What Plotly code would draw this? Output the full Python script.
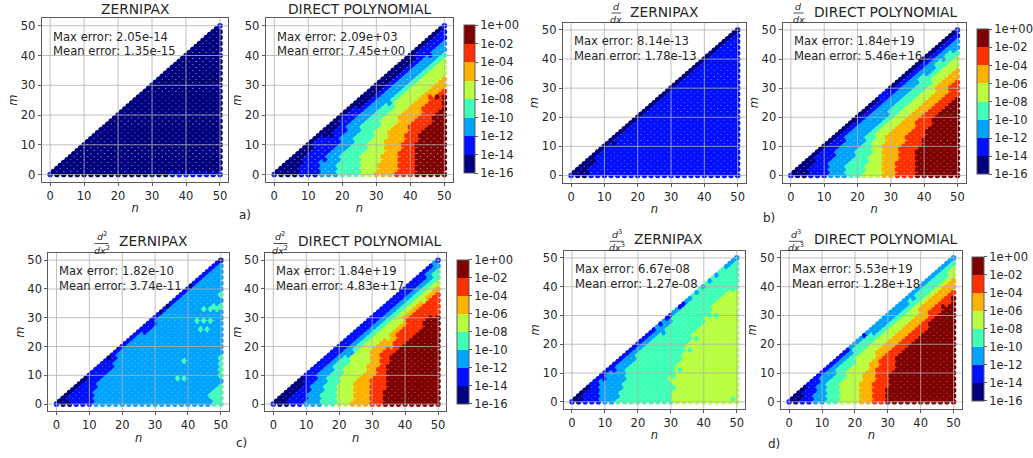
import plotly.graph_objects as go

W, H = 1033, 458

# ---- colour bands (log10 error) ----
BAND_EDGES = [-16, -14, -12, -10, -8, -6, -4, -2, 0]
BAND_COLORS = ["#00007f", "#0010ff", "#00a4ff", "#40ffb7", "#b7ff40", "#ffb300", "#ff3000", "#7f0000"]
BAND_LABELS = ["1e-16", "1e-14", "1e-12", "1e-10", "1e-08", "1e-06", "1e-04", "1e-02", "1e+00"]

# Every list below: index = radial row m, value = first n at which the band begins on that row.
# ---- a) DIRECT POLYNOMIAL ----
A_D1 = [7,8,8,9,9,9,10,10,11,12,12,13,14,18,17,18,19,20,20,21,22,23,24,26,27,28,29,30,31,32,34,35,36,37,37,38,39,40,41,42,42,43,44,45,46,47,48,49,50,51,50]
A_D2 = [14,15,14,15,14,16,16,17,18,19,20,21,20,21,22,23,22,23,24,25,26,27,28,29,30,31,32,33,34,35,36,37,38,39,40,41,42,43,44,45,47,47,48,49,50]
A_D3 = [20,19,20,19,20,21,20,21,22,23,24,25,24,25,26,27,26,27,28,29,30,31,32,33,36,35,36,37,38,39,40,41,42,43,44,45,46,47,48,49,50]
A_D4 = [26,27,26,27,26,27,26,27,28,29,28,29,30,31,30,31,32,33,32,33,34,35,36,37,36,37,38,39,40,41,42,43,44,45,46,47,48,49,50]
A_D5 = [30,31,32,31,32,33,32,33,34,33,34,33,34,35,34,35,36,37,38,37,38,39,40,41,42,43,44,45,46,47,48,49,50]
A_D6 = [36,37,38,37,38,37,38,37,38,39,38,39,40,39,40,41,40,41,42,43,44,45,44,45,46,47,46,49,50]
A_D7 = [42,43,42,43,42,43,42,43,42,43,42,43,44,43,44,45,46,47,48,47,48,49,50,99,50,99,48]
# ---- b) DIRECT POLYNOMIAL ----
B_D1 = [6,7,6,7,8,9,8,9,10,11,12,13,14,15,16,17,18,19,20,21,22,23,24,25,26,27,28,27,28,29,32,33,34,35,36,37,38,39,40,41,42,43,44,45,46,47,48,49,50,51,50]
B_D2 = [11,12,12,12,12,12,13,14,14,14,15,16,17,17,18,18,19,20,21,22,23,24,25,26,27,28,29,30,31,32,34,35,36,36,37,38,39,40,41,42,43,44,45,46,47,48,50]
B_D3 = [17,17,17,17,17,18,19,20,20,21,21,22,23,23,24,25,26,27,27,28,29,30,30,31,32,33,33,34,35,36,37,38,39,39,40,42,43,44,44,45,47,47,48,50]
B_D4 = [22,23,23,23,24,24,24,25,25,25,25,25,26,26,26,27,27,28,29,30,31,32,33,34,35,36,37,38,39,40,41,42,43,43,44,45,46,47,48,49,50]
B_D5 = [27,28,27,28,28,28,28,28,28,28,28,28,29,29,30,31,32,33,33,34,35,36,37,38,39,40,41,42,43,44,44,45,46,47,47,48,49,50]
B_D6 = [32,32,32,32,32,32,33,33,33,33,34,34,35,35,36,37,37,38,38,39,40,41,42,43,44,45,46,47,47,48,48,49,49,50]
B_D7 = [38,39,38,39,38,39,38,39,38,39,40,41,40,41,42,41,42,43,44,43,44,45,46,47,48,49,50]
# ---- c) DIRECT POLYNOMIAL ----
C_D1 = [5,5,6,7,8,9,9,10,10,11,10,11,12,13,14,15,16,17,18,19,20,21,22,23,24,25,26,27,28,29,30,31,32,33,34,35,36,37,38,39,40,41,42,43,44,45,46,47,48,49,50]
C_D2 = [10,10,11,11,12,12,12,12,13,14,14,15,16,17,17,18,19,21,22,23,24,25,25,26,27,28,29,30,31,32,33,34,35,36,37,38,39,40,41,43,44,44,45,46,47,47,48,48,49,49,52]
C_D3 = [15,15,15,15,15,16,16,16,17,17,17,18,19,19,20,21,22,24,25,25,26,26,27,28,29,30,31,32,33,34,35,36,37,38,39,40,41,43,44,45,46,47,48,48,49,49,50]
C_D4 = [20,20,20,20,20,20,20,20,21,21,21,22,22,23,23,24,24,25,26,27,28,28,29,30,31,32,33,34,35,36,37,38,39,40,41,42,43,44,45,46,47,48,49,50]
C_D5 = [24,25,25,25,25,25,25,25,26,27,28,28,29,29,30,30,30,30,30,31,32,33,34,36,36,37,38,39,39,40,40,41,42,43,44,45,47,47,48,48,50]
C_D6 = [30,30,30,30,30,30,30,30,30,31,31,32,32,33,33,33,33,33,33,35,37,37,37,38,38,39,40,40,41,41,42,43,44,45,46,47,48,49,50]
C_D7 = [34,35,34,35,34,35,35,35,36,35,36,35,36,35,36,37,36,37,38,39,40,41,42,43,44,45,45,46,46,47,48,50]
# ---- d) DIRECT POLYNOMIAL ----
D_D1 = [4,5,5,5,6,7,6,7,8,9,10,11,12,13,14,15,16,17,18,19,20,21,22,23,24,25,26,27,28,29,30,31,32,33,34,35,36,37,38,39,40,41,42,43,44,45,46,47,48,49,50]
D_D2 = [8,8,8,8,9,9,9,10,10,11,12,13,14,15,16,17,18,19,20,19,20,21,22,25,24,25,26,27,28,29,30,31,32,33,34,35,36,37,38,39,40,41,42,43,44,45,46,47,48,49,50]
D_D3 = [12,13,12,13,12,13,12,13,13,15,15,15,16,17,17,18,19,20,20,21,22,23,24,25,27,29,30,31,31,32,33,34,35,36,37,37,39,39,40,41,42,43,44,45,46,47,47,49,50]
D_D4 = [16,17,16,17,16,17,16,17,18,19,18,19,20,21,22,21,22,23,24,25,26,27,28,29,30,31,32,33,34,35,36,37,38,39,39,40,41,42,43,45,45,46,47,48,49,49,50]
D_D5 = [22,23,22,23,22,23,22,23,24,23,24,25,26,25,26,27,28,27,28,29,30,31,32,33,34,35,36,37,38,39,39,40,40,41,42,43,44,45,46,46,47,48,49,50]
D_D6 = [26,27,26,27,26,27,26,27,28,27,28,27,28,29,28,29,30,31,32,33,34,35,36,36,37,38,39,40,41,42,43,43,43,44,45,46,47,48,49,50]
D_D7 = [30,31,30,31,30,31,31,31,32,31,32,33,34,33,34,33,34,35,36,37,38,39,40,40,41,42,43,43,44,45,45,46,47,47,49,50,50]
# ---- ZERNIPAX panels ----
A_Z1 = [36]
B_Z1 = [6,7,6,7,8,9,8,9,10,11,12,14,14,15,16,17,18,19,20,21,22,23,24,25,26,27,28,29,30,31,32,33,34,35,36,37,38,39,40,41,42,43,44,45,46,47,48,49,50,51,52]
C_Z1 = [5,5,4,5,6,7,8,9,10,11,10,11,12,13,14,15,18,17,18,19,20,21,22,23,24,25,26,27,28,29,30,31,34,33,36,35,36,37,38,39,40,43,42,43,44,45,46,47,48,49,52]
C_Z2 = [12,13,12,13,12,13,14,13,14,15,16,17,18,19,18,19,20,19,20,21,22,23,24,25,26,29,30,31,32,31,32,33,34,35,36,37,38,39,40,41,42,43,44,45,46,47,48,49,50,51,52]
D_Z1 = [4,5,4,5,6,7,6,7,8,9,10,11,12,13,14,15,16,17,18,19,20,21,22,23,24,25,26,27,28,29,30,31,32,33,34,35,36,37,38,39,40,41,42,43,44,45,46,47,48,49,50]
D_Z2 = [9,9,9,9,9,9,9,9,11,11,12,14,14,15,16,17,18,19,20,21,22,23,24,25,26,27,26,29,28,31,32,31,32,35,36,35,36,37,40,39,40,41,44,43,44,45,46,47,48,49,50]
D_Z3 = [14,15,16,15,16,16,16,16,17,17,17,17,18,19,19,20,20,21,22,23,24,25,25,26,29,28,29,30,31,31,32,33,34,34,35,36,37,37,38,39,41,41,42,43,46,45,46,48,49,50,51]
D_Z4 = [31,31,31,31,31,32,31,31,30,32,32,34,32,33,34,34,34,35,37,35,36,37,39,37,38,39,40,40,41,41,46,42,43,43,44,45,46,47,48,50]

# isolated points that differ from their neighbours: (n, m, band)
A_Z_SPOTS = [(0, 0, 1), (50, 50, 1)]
B_Z_SPOTS = [(0, 0, 1)]
C_Z_SPOTS = [(0, 0, 1), (50, 38, 3), (45, 33, 3), (47, 33, 3), (48, 34, 3), (49, 33, 3), (50, 34, 3),
             (43, 29, 3), (45, 29, 3), (47, 29, 3), (44, 26, 3), (46, 26, 3), (39, 15, 3), (37, 9, 3), (39, 9, 3),
             (50, 16, 3), (50, 14, 3), (50, 12, 3), (50, 10, 3), (50, 6, 3), (50, 4, 3), (50, 2, 3), (50, 0, 3),
             (49, 5, 3), (49, 3, 3), (49, 1, 3), (48, 4, 3), (48, 2, 3), (48, 0, 3), (47, 3, 3)]
D_Z_SPOTS = [(0, 0, 1), (49, 1, 3)]
ORIGIN_SPOT = [(0, 0, 1)]

MAX_ERR = ["2.05e-14", "2.09e+03", "8.14e-13", "1.84e+19", "1.82e-10", "1.84e+19", "6.67e-08", "5.53e+19"]
MEAN_ERR = ["1.35e-15", "7.45e+00", "1.78e-13", "5.46e+16", "3.74e-11", "4.83e+17", "1.27e-08", "1.28e+18"]
TITLES = ["ZERNIPAX", "DIRECT POLYNOMIAL"]
AXIS_TICKS = [0, 10, 20, 30, 40, 50]

# pixel frames: left, right, top, bottom
PANELS = [
    dict(frame=(41.7, 228.7, 18.3, 182), bounds=[A_Z1], spots=A_Z_SPOTS),
    dict(frame=(266, 453.3, 18.3, 182), bounds=[A_D1, A_D2, A_D3, A_D4, A_D5, A_D6, A_D7], spots=ORIGIN_SPOT),
    dict(frame=(563.3, 746.7, 22.7, 182.7), bounds=[B_Z1], spots=B_Z_SPOTS),
    dict(frame=(783.3, 966.7, 22.7, 182.7), bounds=[B_D1, B_D2, B_D3, B_D4, B_D5, B_D6, B_D7], spots=ORIGIN_SPOT),
    dict(frame=(48.3, 229.3, 253, 411.3), bounds=[C_Z1, C_Z2], spots=C_Z_SPOTS),
    dict(frame=(265.3, 446.7, 253, 411.3), bounds=[C_D1, C_D2, C_D3, C_D4, C_D5, C_D6, C_D7], spots=ORIGIN_SPOT),
    dict(frame=(564.3, 745.7, 250.7, 409), bounds=[D_Z1, D_Z2, D_Z3, D_Z4], spots=D_Z_SPOTS),
    dict(frame=(781.7, 962.7, 250.7, 409), bounds=[D_D1, D_D2, D_D3, D_D4, D_D5, D_D6, D_D7], spots=ORIGIN_SPOT),
]
# colourbars: attached panel -> left, right, top, bottom
COLORBARS = {1: (464, 474.7, 25, 173.3), 3: (976.7, 988.3, 29, 174.3),
             5: (456.7, 468.3, 259.7, 403.7), 7: (972.3, 984, 256.3, 400.7)}
# fraction titles: text-left, text y, fraction x, numerator y, bar y, denominator y, order
FRACTIONS = {2: (629, 11.7, 617, 6, 13, 19.5, 1), 3: (812.3, 11.7, 799.3, 6, 13, 19.5, 1),
             4: (117.3, 241.3, 101.7, 236.3, 243.5, 249.7, 2), 5: (296, 241.3, 280.7, 236.3, 243.5, 249.7, 2),
             6: (632.3, 238.7, 617.3, 234, 241.3, 247.3, 3), 7: (812.3, 238.7, 796.7, 234, 241.3, 247.3, 3)}
LETTERS = [("a)", 245, 215), ("b)", 770, 218), ("c)", 242, 443), ("d)", 775, 444)]

FONT = "DejaVu Sans"
INK = "#262626"
FRAME = "#5a5a5a"


def px(x):
    return x / W


def py(y):
    return 1 - y / H


def band_at(n, m, bounds, spots):
    for sn, sm, b in spots:
        if sn == n and sm == m:
            return b
    lv = 0
    for arr in bounds:
        if m < len(arr) and n >= arr[m]:
            lv += 1
    return lv


scale = []
for k, c in enumerate(BAND_COLORS):
    scale += [[k / 8, c], [(k + 1) / 8, c]]

fig = go.Figure()
annots = []
shapes = []
layout = {}


def note(text, x, y, size, anchor="left"):
    annots.append(dict(text=text, x=px(x), y=py(y), xref="paper", yref="paper", showarrow=False,
                       xanchor=anchor, yanchor="middle", font=dict(size=size, color=INK, family=FONT)))


for i, p in enumerate(PANELS):
    ax = "" if i == 0 else str(i + 1)
    L, R, T, B = p["frame"]
    ns, ms, vals = [], [], []
    for n in range(51):
        for m in range(n % 2, n + 1, 2):
            ns.append(n)
            ms.append(m)
            vals.append(BAND_EDGES[band_at(n, m, p["bounds"], p["spots"])] + 1)
    marker = dict(size=5.6, color=vals, colorscale=scale, cmin=-16, cmax=0, line=dict(width=0))
    if i in COLORBARS:
        cl, cr, ct, cb = COLORBARS[i]
        marker["showscale"] = True
        marker["colorbar"] = dict(
            x=px(cl), xanchor="left", xpad=0, ypad=0, y=py(cb), yanchor="bottom",
            thickness=cr - cl, thicknessmode="pixels", len=cb - ct, lenmode="pixels",
            tickvals=BAND_EDGES, ticktext=BAND_LABELS, ticks="outside", ticklen=3, tickcolor=FRAME,
            tickfont=dict(size=11.5, color=INK, family=FONT), outlinewidth=1, outlinecolor=FRAME,
        )
    else:
        marker["showscale"] = False
    fig.add_trace(go.Scatter(x=ns, y=ms, mode="markers", marker=marker, showlegend=False,
                             xaxis="x" + ax, yaxis="y" + ax, hoverinfo="x+y"))
    common = dict(range=[-2.5, 52.5], tickvals=AXIS_TICKS, ticks="outside", ticklen=3, tickcolor=FRAME,
                  showgrid=False, zeroline=False, showline=True, mirror=True, linecolor=FRAME, linewidth=1,
                  tickfont=dict(size=11.5, color=INK, family=FONT))
    layout["xaxis" + ax] = dict(common, domain=[px(L), px(R)], anchor="y" + ax,
                                title=dict(text="<i>n</i>", standoff=2, font=dict(size=11.5, color=INK, family=FONT)))
    layout["yaxis" + ax] = dict(common, domain=[py(B), py(T)], anchor="x" + ax,
                                title=dict(text="<i>m</i>", standoff=0, font=dict(size=11.5, color=INK, family=FONT)))
    for t in AXIS_TICKS:
        shapes.append(dict(type="line", xref="x" + ax, yref="y" + ax + " domain", x0=t, x1=t, y0=0, y1=1,
                           line=dict(color="rgba(176,176,176,0.8)", width=1), layer="above"))
        shapes.append(dict(type="line", xref="x" + ax + " domain", yref="y" + ax, x0=0, x1=1, y0=t, y1=t,
                           line=dict(color="rgba(176,176,176,0.8)", width=1), layer="above"))
    note("Max error: " + MAX_ERR[i], L + 9, T + 18.2, 11.6)
    note("Mean error: " + MEAN_ERR[i], L + 9, T + 33, 11.6)
    name = TITLES[i % 2]
    if i in FRACTIONS:
        tl, ty, fx, ny, by, dy, order = FRACTIONS[i]
        note(name, tl, ty, 13.8)
        sup = "" if order == 1 else "<sup>%d</sup>" % order
        note("<i>d</i>" + sup, fx, ny, 9.5, "center")
        note("<i>dx</i>" + sup, fx, dy, 9.5, "center")
        half = 5 if order == 1 else 7
        shapes.append(dict(type="line", xref="paper", yref="paper", x0=px(fx - half), x1=px(fx + half),
                           y0=py(by), y1=py(by), line=dict(color=INK, width=0.8)))
    else:
        annots.append(dict(text=name, x=px((L + R) / 2), y=py(9.3), xref="paper", yref="paper", showarrow=False,
                           xanchor="center", yanchor="middle", font=dict(size=13.8, color=INK, family=FONT)))

for text, x, y in LETTERS:
    note(text, x, y, 12, "center")

fig.update_layout(width=W, height=H, margin=dict(l=0, r=0, t=0, b=0), autosize=False,
                  paper_bgcolor="white", plot_bgcolor="white", font=dict(family=FONT, color=INK),
                  annotations=annots, shapes=shapes, **layout)

fig.write_html("out.html", config=dict(displayModeBar=False), post_script="document.body.style.margin='0';")
